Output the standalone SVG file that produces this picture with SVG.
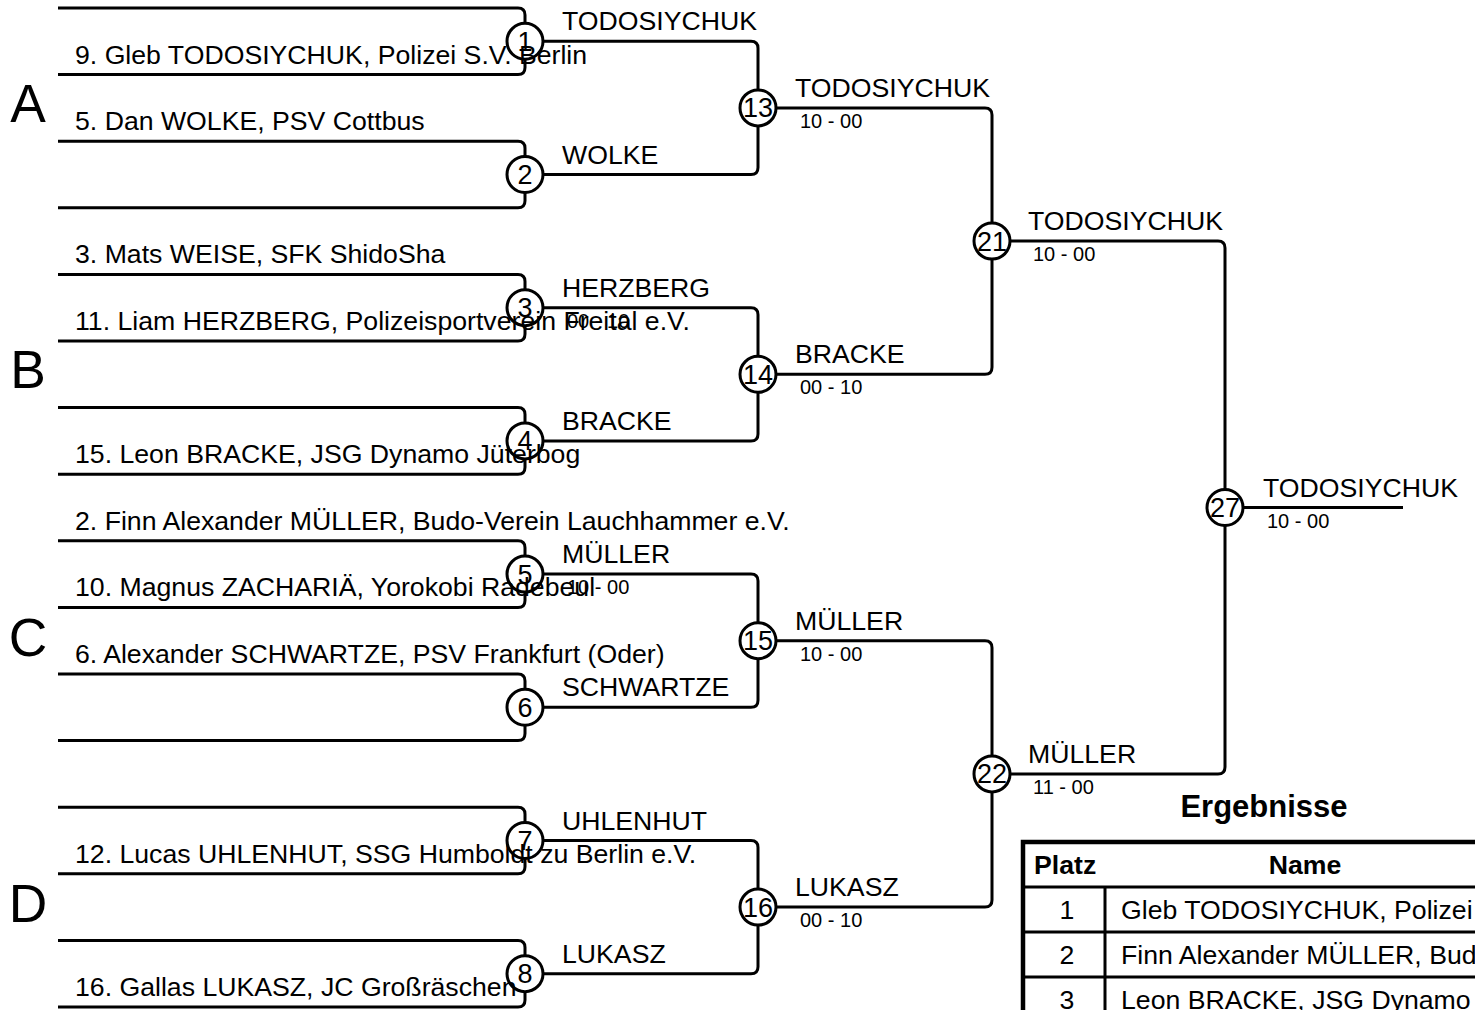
<svg xmlns="http://www.w3.org/2000/svg" width="1475" height="1010" viewBox="0 0 1475 1010">
<style>
.ln{fill:none;stroke:#000;stroke-width:3;stroke-linecap:butt}
.c{fill:none;stroke:#000;stroke-width:3}
text{font-family:"Liberation Sans",Arial,sans-serif;fill:#000}
.t{font-size:26.67px}
.s{font-size:20px}
.n{font-size:27px;text-anchor:middle}
.g{font-size:53.33px;text-anchor:middle}
.b{font-weight:bold}
.tb{fill:none;stroke:#000}
</style>
<rect width="1475" height="1010" fill="#fff"/>
<g id="groups">
<text class="g" x="28" y="122">A</text>
<text class="g" x="28" y="388">B</text>
<text class="g" x="28" y="656">C</text>
<text class="g" x="28" y="922">D</text>
</g>
<g id="connectors">
<path class="ln" d="M58,8 H518 Q525,8 525,15 V23.3 M525,59.3 V67.6 Q525,74.6 518,74.6 H58"/>
<path class="ln" d="M58,141.2 H518 Q525,141.2 525,148.2 V156.5 M525,192.5 V200.8 Q525,207.8 518,207.8 H58"/>
<path class="ln" d="M58,274.4 H518 Q525,274.4 525,281.4 V289.7 M525,325.7 V334 Q525,341 518,341 H58"/>
<path class="ln" d="M58,407.6 H518 Q525,407.6 525,414.6 V422.9 M525,458.9 V467.2 Q525,474.2 518,474.2 H58"/>
<path class="ln" d="M58,540.8 H518 Q525,540.8 525,547.8 V556.1 M525,592.1 V600.4 Q525,607.4 518,607.4 H58"/>
<path class="ln" d="M58,674 H518 Q525,674 525,681 V689.3 M525,725.3 V733.6 Q525,740.6 518,740.6 H58"/>
<path class="ln" d="M58,807.2 H518 Q525,807.2 525,814.2 V822.5 M525,858.5 V866.8 Q525,873.8 518,873.8 H58"/>
<path class="ln" d="M58,940.4 H518 Q525,940.4 525,947.4 V955.7 M525,991.7 V1000 Q525,1007 518,1007 H58"/>
<path class="ln" d="M543,41.3 H751 Q758,41.3 758,48.3 V89.9 M543,174.5 H751 Q758,174.5 758,167.5 V125.9"/>
<path class="ln" d="M543,307.7 H751 Q758,307.7 758,314.7 V356.3 M543,440.9 H751 Q758,440.9 758,433.9 V392.3"/>
<path class="ln" d="M543,574.1 H751 Q758,574.1 758,581.1 V622.7 M543,707.3 H751 Q758,707.3 758,700.3 V658.7"/>
<path class="ln" d="M543,840.5 H751 Q758,840.5 758,847.5 V889.1 M543,973.7 H751 Q758,973.7 758,966.7 V925.1"/>
<path class="ln" d="M776,107.9 H985 Q992,107.9 992,114.9 V223.1 M776,374.3 H985 Q992,374.3 992,367.3 V259.1"/>
<path class="ln" d="M776,640.7 H985 Q992,640.7 992,647.7 V755.9 M776,907.1 H985 Q992,907.1 992,900.1 V791.9"/>
<path class="ln" d="M1010,241.1 H1218 Q1225,241.1 1225,248.1 V489.5 M1010,773.9 H1218 Q1225,773.9 1225,766.9 V525.5"/>
<path class="ln" d="M1243,507.5 H1403"/>
</g>
<g id="entries" class="t">
<text x="75" y="63.6">9. Gleb TODOSIYCHUK, Polizei S.V. Berlin</text>
<text x="75" y="130.2">5. Dan WOLKE, PSV Cottbus</text>
<text x="75" y="263.4">3. Mats WEISE, SFK ShidoSha</text>
<text x="75" y="330">11. Liam HERZBERG, Polizeisportverein Freital e.V.</text>
<text x="75" y="463.2">15. Leon BRACKE, JSG Dynamo Jüterbog</text>
<text x="75" y="529.8">2. Finn Alexander MÜLLER, Budo-Verein Lauchhammer e.V.</text>
<text x="75" y="596.4">10. Magnus ZACHARIÄ, Yorokobi Radebeul</text>
<text x="75" y="663">6. Alexander SCHWARTZE, PSV Frankfurt (Oder)</text>
<text x="75" y="862.8">12. Lucas UHLENHUT, SSG Humboldt zu Berlin e.V.</text>
<text x="75" y="996">16. Gallas LUKASZ, JC Großräschen</text>
</g>
<g id="m1"><circle class="c" cx="525" cy="41.3" r="18"/><text class="n" x="525" y="50.8">1</text></g>
<g id="m2"><circle class="c" cx="525" cy="174.5" r="18"/><text class="n" x="525" y="184">2</text></g>
<g id="m3"><circle class="c" cx="525" cy="307.7" r="18"/><text class="n" x="525" y="317.2">3</text></g>
<g id="m4"><circle class="c" cx="525" cy="440.9" r="18"/><text class="n" x="525" y="450.4">4</text></g>
<g id="m5"><circle class="c" cx="525" cy="574.1" r="18"/><text class="n" x="525" y="583.6">5</text></g>
<g id="m6"><circle class="c" cx="525" cy="707.3" r="18"/><text class="n" x="525" y="716.8">6</text></g>
<g id="m7"><circle class="c" cx="525" cy="840.5" r="18"/><text class="n" x="525" y="850">7</text></g>
<g id="m8"><circle class="c" cx="525" cy="973.7" r="18"/><text class="n" x="525" y="983.2">8</text></g>
<g id="m13"><circle class="c" cx="758" cy="107.9" r="18"/><text class="n" x="758" y="117.4">13</text></g>
<g id="m14"><circle class="c" cx="758" cy="374.3" r="18"/><text class="n" x="758" y="383.8">14</text></g>
<g id="m15"><circle class="c" cx="758" cy="640.7" r="18"/><text class="n" x="758" y="650.2">15</text></g>
<g id="m16"><circle class="c" cx="758" cy="907.1" r="18"/><text class="n" x="758" y="916.6">16</text></g>
<g id="m21"><circle class="c" cx="992" cy="241.1" r="18"/><text class="n" x="992" y="250.6">21</text></g>
<g id="m22"><circle class="c" cx="992" cy="773.9" r="18"/><text class="n" x="992" y="783.4">22</text></g>
<g id="m27"><circle class="c" cx="1225" cy="507.5" r="18"/><text class="n" x="1225" y="517">27</text></g>
<g id="winners">
<text class="t" x="562" y="30.3">TODOSIYCHUK</text>
<text class="t" x="562" y="163.5">WOLKE</text>
<text class="t" x="562" y="296.7">HERZBERG</text>
<text class="s" x="567" y="327.7">00 - 10</text>
<text class="t" x="562" y="429.9">BRACKE</text>
<text class="t" x="562" y="563.1">MÜLLER</text>
<text class="s" x="567" y="594.1">10 - 00</text>
<text class="t" x="562" y="696.3">SCHWARTZE</text>
<text class="t" x="562" y="829.5">UHLENHUT</text>
<text class="t" x="562" y="962.7">LUKASZ</text>
<text class="t" x="795" y="96.9">TODOSIYCHUK</text>
<text class="s" x="800" y="127.9">10 - 00</text>
<text class="t" x="795" y="363.3">BRACKE</text>
<text class="s" x="800" y="394.3">00 - 10</text>
<text class="t" x="795" y="629.7">MÜLLER</text>
<text class="s" x="800" y="660.7">10 - 00</text>
<text class="t" x="795" y="896.1">LUKASZ</text>
<text class="s" x="800" y="927.1">00 - 10</text>
<text class="t" x="1028" y="230.1">TODOSIYCHUK</text>
<text class="s" x="1033" y="261.1">10 - 00</text>
<text class="t" x="1028" y="762.9">MÜLLER</text>
<text class="s" x="1033" y="793.9">11 - 00</text>
<text class="t" x="1263" y="496.5">TODOSIYCHUK</text>
<text class="s" x="1267" y="527.5">10 - 00</text>
</g>
<g id="results">
<text class="b" x="1264" y="817" font-size="31" text-anchor="middle">Ergebnisse</text>
<rect class="tb" x="1023" y="842" width="700" height="250" stroke-width="4.5"/>
<path class="tb" stroke-width="3" d="M1023,887 H1500 M1023,932 H1500 M1023,977 H1500 M1105,887 V1010"/>
<text class="t b" x="1034" y="874">Platz</text>
<text class="t b" x="1305" y="874" text-anchor="middle">Name</text>
<text class="t" x="1067" y="919" text-anchor="middle">1</text>
<text class="t" x="1121" y="919">Gleb TODOSIYCHUK, Polizei S.V. Berlin</text>
<text class="t" x="1067" y="964" text-anchor="middle">2</text>
<text class="t" x="1121" y="964">Finn Alexander MÜLLER, Budo-Verein Lauchhammer e.V.</text>
<text class="t" x="1067" y="1009" text-anchor="middle">3</text>
<text class="t" x="1121" y="1009">Leon BRACKE, JSG Dynamo Jüterbog</text>
</g>
</svg>
